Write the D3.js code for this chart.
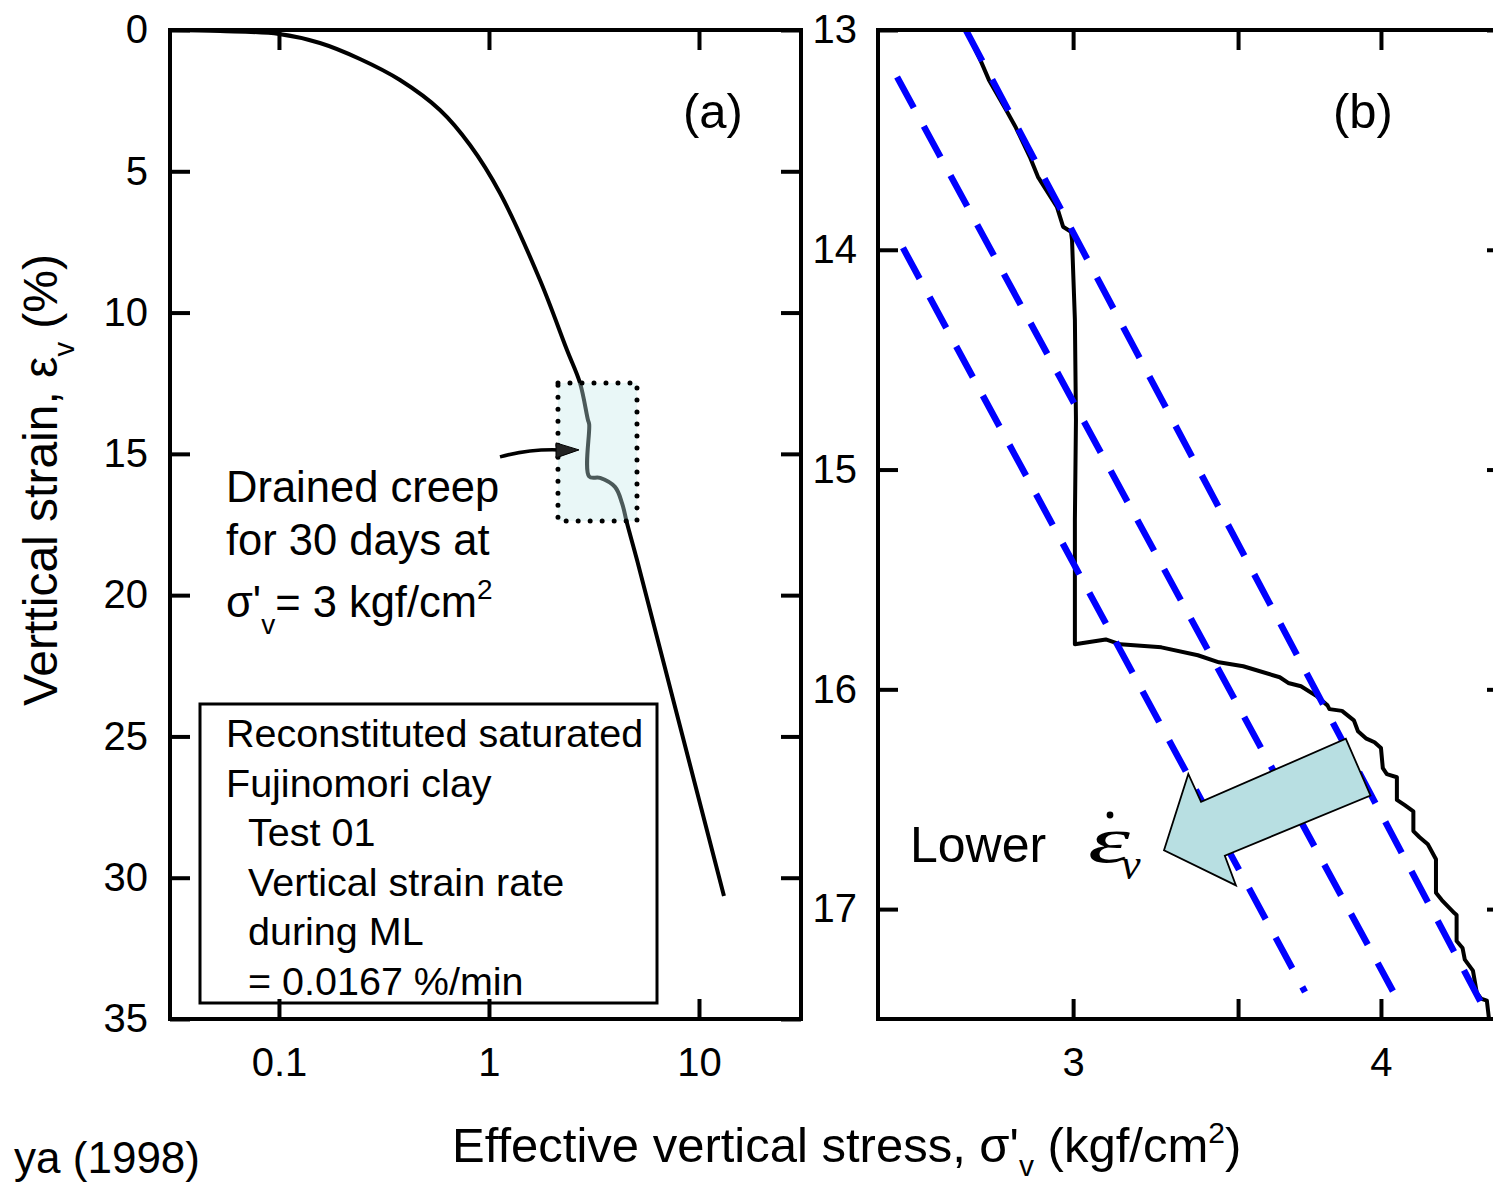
<!DOCTYPE html>
<html>
<head>
<meta charset="utf-8">
<script src="https://cdn.jsdelivr.net/npm/d3@7"></script>
<style>
  body { margin: 0; background: #fff; }
  svg { display: block; }
</style>
</head>
<body>
<svg id="chart" width="1493" height="1183"></svg>
<script>
// ---------- (a) full constant-rate loading curve, Test 01 ----------
const stressA = [0.0303, 0.0524, 0.1, 0.1567, 0.243, 0.377, 0.584, 0.812, 1.128, 1.749, 2.352, 2.713, 2.96,
                 3.0, 3.0, 3.38, 3.98, 4.30, 4.54, 5.07, 7.54, 13.15];
const strainA = [0, 0.035, 0.142, 0.46, 1.026, 1.77, 2.831, 4.069, 5.768, 8.847, 11.325, 12.493, 13.8,
                 13.95, 15.8, 15.85, 16.17, 16.74, 17.45, 18.76, 23.71, 30.65];

// ---------- (b) close-up around the 30-day creep stage ----------
const stressB = [2.714, 2.753, 2.773, 2.818, 2.844, 2.881, 2.903, 2.955, 2.972, 2.994, 2.997, 3.005, 3.008, 3.005,
                 3.005, 3.005, 3.093, 3.135, 3.258, 3.371, 3.438, 3.517, 3.639, 3.668, 3.712, 3.768, 3.805, 3.812,
                 3.857, 3.900, 3.915, 3.944, 3.976, 4.000, 4.007, 4.022, 4.060, 4.060, 4.090, 4.123, 4.123, 4.147,
                 4.179, 4.211, 4.211, 4.234, 4.284, 4.293, 4.293, 4.317, 4.326, 4.359, 4.375, 4.392, 4.416, 4.425];
const strainB = [13.000, 13.145, 13.227, 13.364, 13.445, 13.577, 13.668, 13.805, 13.895, 13.918, 13.955, 14.318,
                 14.773, 15.227, 15.591, 15.795, 15.773, 15.795, 15.809, 15.845, 15.877, 15.895, 15.945, 15.971,
                 15.986, 16.032, 16.073, 16.090, 16.098, 16.141, 16.191, 16.223, 16.241, 16.267, 16.359, 16.386,
                 16.400, 16.503, 16.527, 16.555, 16.645, 16.673, 16.705, 16.773, 16.926, 16.959, 17.018, 17.027,
                 17.145, 17.177, 17.230, 17.280, 17.382, 17.407, 17.416, 17.5];

// parallel reference lines for different strain rates (start, end)
const rateLineStress = [[2.714, 4.428], [2.545, 4.045], [2.559, 3.726]];
const rateLineStrain = [[13.0, 17.5], [13.214, 17.373], [13.991, 17.377]];

// ticks
const ticksAx = [0.1, 1, 10];
const labelsAx = ["0.1", "1", "10"];
const ticksAy = [0, 5, 10, 15, 20, 25, 30, 35];
const ticksBx = [3, 3.5, 4];
const labelsBx = ["3", "", "4"];
const ticksBy = [13, 14, 15, 16, 17];

// highlighted creep window in (a): stress range, strain range
const creepBoxStress = [2.131, 5.067];
const creepBoxStrain = [12.49, 17.38];
// callout arrow tip in (a)
const calloutTip = [2.683, 14.86];

// big "lower strain rate" arrow outline in (b)
const bigArrowStress = [3.871, 3.961, 3.457, 3.493, 3.266, 3.341, 3.381];
const bigArrowStrain = [16.225, 16.483, 16.757, 16.892, 16.732, 16.385, 16.512];

const FONT = '"Liberation Sans", Arial, Helvetica, sans-serif';
const SERIF = '"Liberation Serif", "Times New Roman", serif';

const svg = d3.select("#chart");

const xA = d3.scaleLog().domain([0.03028, 30.6]).range([170, 801]);
const yA = d3.scaleLinear().domain([0, 35]).range([30, 1019]);
const xB = d3.scaleLog().domain([2.5, 4.5]).range([878, 1507]);
const yB = d3.scaleLinear().domain([13, 17.5]).range([30, 1019]);

function drawAxes(x, y, xTicks, xLabels, yTicks, yPad) {
  const [x0, x1] = x.range(), [y0, y1] = y.range();
  const g = svg.append("g");
  g.append("g").attr("transform", `translate(0,${y1})`)
    .call(d3.axisBottom(x).tickValues(xTicks).tickSize(-20).tickSizeOuter(0)
      .tickPadding(29).tickFormat((d, i) => xLabels[i]));
  g.append("g").attr("transform", `translate(0,${y0})`)
    .call(d3.axisTop(x).tickValues(xTicks).tickSize(-20).tickSizeOuter(0).tickFormat(""));
  g.append("g").attr("transform", `translate(${x0},0)`)
    .call(d3.axisLeft(y).tickValues(yTicks).tickSize(-20).tickSizeOuter(0)
      .tickPadding(yPad).tickFormat(d3.format("d")));
  g.append("g").attr("transform", `translate(${x1},0)`)
    .call(d3.axisRight(y).tickValues(yTicks).tickSize(-20).tickSizeOuter(0).tickFormat(""));
  g.selectAll(".domain").remove();
  g.selectAll(".tick line").attr("stroke", "#000").attr("stroke-width", 4);
  g.selectAll(".tick text").attr("font-size", 40).attr("font-family", FONT).attr("fill", "#000");
  g.append("rect").attr("x", x0).attr("y", y0).attr("width", x1 - x0).attr("height", y1 - y0)
    .attr("fill", "none").attr("stroke", "#000").attr("stroke-width", 4);
}

// ---------------- panel (a) ----------------
drawAxes(xA, yA, ticksAx, labelsAx, ticksAy, 22);

const lineA = d3.line().x(i => xA(stressA[i])).y(i => yA(strainA[i])).curve(d3.curveCatmullRom.alpha(0.5));
svg.append("path").attr("d", lineA(d3.range(stressA.length)))
  .attr("fill", "none").attr("stroke", "#000").attr("stroke-width", 4);

// creep window
svg.append("rect")
  .attr("x", xA(creepBoxStress[0])).attr("y", yA(creepBoxStrain[0]))
  .attr("width", xA(creepBoxStress[1]) - xA(creepBoxStress[0]))
  .attr("height", yA(creepBoxStrain[1]) - yA(creepBoxStrain[0]))
  .attr("fill", "#c4e9ea").attr("fill-opacity", 0.38)
  .attr("stroke", "#000").attr("stroke-width", 5)
  .attr("stroke-dasharray", "0,12").attr("stroke-linecap", "round");

// callout arrow
const tx = xA(calloutTip[0]), ty = yA(calloutTip[1]);
svg.append("path")
  .attr("d", `M${tx - 79},${ty + 7} Q${tx - 50},${ty - 1} ${tx - 20},${ty}`)
  .attr("fill", "none").attr("stroke", "#000").attr("stroke-width", 3.5);
svg.append("path")
  .attr("d", `M${tx},${ty} L${tx - 23},${ty - 7} L${tx - 23},${ty + 8} Z`)
  .attr("fill", "#222").attr("stroke", "#000").attr("stroke-width", 1);

// creep note
const note = svg.append("text").attr("font-family", FONT).attr("font-size", 43.5).attr("fill", "#000");
note.append("tspan").attr("x", 226).attr("y", 502).text("Drained creep");
note.append("tspan").attr("x", 226).attr("y", 555).text("for 30 days at");
const n3 = svg.append("text").attr("font-family", FONT).attr("font-size", 43.5).attr("fill", "#000")
  .attr("x", 226).attr("y", 617);
n3.append("tspan").text("σ'");
n3.append("tspan").attr("font-size", 28).attr("dy", 17).text("v");
n3.append("tspan").attr("dy", -17).text("= 3 kgf/cm");
n3.append("tspan").attr("font-size", 28).attr("dy", -18).text("2");

// test description box
svg.append("rect").attr("x", 200).attr("y", 704).attr("width", 457).attr("height", 299)
  .attr("fill", "none").attr("stroke", "#000").attr("stroke-width", 3);
const boxLines = [
  ["Reconstituted saturated", 226], ["Fujinomori clay", 226], ["Test 01", 248],
  ["Vertical strain rate", 248], ["during ML", 248], ["= 0.0167 %/min", 248]
];
const boxText = svg.append("text").attr("font-family", FONT).attr("font-size", 39.5).attr("fill", "#000");
boxLines.forEach(([t, x], i) => {
  boxText.append("tspan").attr("x", x).attr("y", 747 + i * 49.6).text(t);
});

svg.append("text").attr("font-family", FONT).attr("font-size", 49).attr("x", 683).attr("y", 128)
  .text("(a)");

// ---------------- panel (b) ----------------
svg.append("defs").append("clipPath").attr("id", "clipB")
  .append("rect").attr("x", 878).attr("y", 30).attr("width", 629).attr("height", 989);

const plotB = svg.append("g").attr("clip-path", "url(#clipB)");

const lineB = d3.line().x(i => xB(stressB[i])).y(i => yB(strainB[i]));
plotB.append("path").attr("d", lineB(d3.range(stressB.length)))
  .attr("fill", "none").attr("stroke", "#000").attr("stroke-width", 4).attr("stroke-linejoin", "round");

rateLineStress.forEach((s, k) => {
  plotB.append("line")
    .attr("x1", xB(s[0])).attr("y1", yB(rateLineStrain[k][0]))
    .attr("x2", xB(s[1])).attr("y2", yB(rateLineStrain[k][1]))
    .attr("stroke", "#0000ff").attr("stroke-width", 6.5).attr("stroke-dasharray", "35,21");
});

const arrowPts = bigArrowStress.map((s, i) => [xB(s), yB(bigArrowStrain[i])]);
plotB.append("polygon").attr("points", arrowPts.map(p => p.join(",")).join(" "))
  .attr("fill", "#b8dfe2").attr("stroke", "#000").attr("stroke-width", 1.8).attr("stroke-linejoin", "miter");

drawAxes(xB, yB, ticksBx, labelsBx, ticksBy, 21);

svg.append("text").attr("font-family", FONT).attr("font-size", 49).attr("x", 1333).attr("y", 128)
  .text("(b)");

svg.append("text").attr("font-family", FONT).attr("font-size", 50).attr("x", 910).attr("y", 862)
  .text("Lower");
svg.append("text").attr("font-family", SERIF).attr("font-style", "italic").attr("font-size", 66)
  .attr("x", 1088).attr("y", 862).attr("textLength", 42).attr("lengthAdjust", "spacingAndGlyphs")
  .text("ε");
svg.append("circle").attr("cx", 1110).attr("cy", 815).attr("r", 3.4).attr("fill", "#000");
svg.append("text").attr("font-family", SERIF).attr("font-style", "italic").attr("font-size", 44)
  .attr("x", 1121).attr("y", 879).text("v");

// ---------------- shared axis titles ----------------
const xt = svg.append("text").attr("font-family", FONT).attr("font-size", 49).attr("fill", "#000")
  .attr("x", 452).attr("y", 1162);
xt.append("tspan").text("Effective vertical stress, σ'");
xt.append("tspan").attr("font-size", 30).attr("dy", 14).text("v");
xt.append("tspan").attr("dy", -14).text(" (kgf/cm");
xt.append("tspan").attr("font-size", 30).attr("dy", -19).text("2");
xt.append("tspan").attr("dy", 19).text(")");

const yt = svg.append("text").attr("font-family", FONT).attr("font-size", 48).attr("fill", "#000")
  .attr("transform", "translate(57,480) rotate(-90)").attr("text-anchor", "middle");
yt.append("tspan").text("Verttical strain, ε");
yt.append("tspan").attr("font-size", 29).attr("dy", 17).text("v");
yt.append("tspan").attr("dy", -17).text(" (%)");

svg.append("text").attr("font-family", FONT).attr("font-size", 44).attr("text-anchor", "end")
  .attr("x", 200).attr("y", 1173).text("ya (1998)");
</script>
</body>
</html>
